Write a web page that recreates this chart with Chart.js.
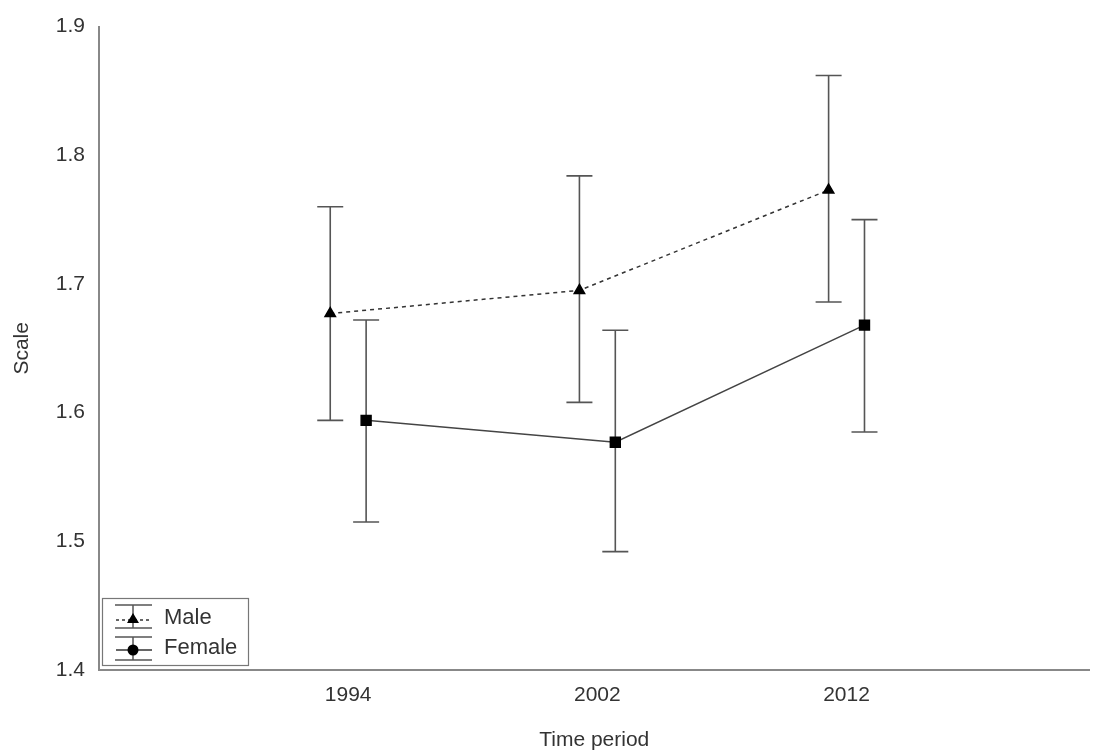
<!DOCTYPE html>
<html>
<head>
<meta charset="utf-8">
<script src="https://cdn.jsdelivr.net/npm/chart.js@4"></script>
<style>
  html, body { margin: 0; padding: 0; background: #fff; }
  #wrap { width: 1098px; height: 753px; }
</style>
</head>
<body>
<div id="wrap"><canvas id="chart"></canvas></div>
<script>
// --- datos ---
const periods = ["1994", "2002", "2012"];
const maleMean = [1.677, 1.695, 1.773];
const maleLow = [1.594, 1.608, 1.686];
const maleHigh = [1.760, 1.784, 1.862];
const femaleMean = [1.594, 1.577, 1.668];
const femaleLow = [1.515, 1.492, 1.585];
const femaleHigh = [1.672, 1.664, 1.750];
const yTicks = [1.4, 1.5, 1.6, 1.7, 1.8, 1.9];

const OFFSET = 0.072; // separación hombre / mujer dentro de cada periodo
const font = "'Liberation Sans', Arial, sans-serif";

function pts(means, shift) {
  return means.map((v, i) => ({ x: i + 1 + shift, y: v }));
}

// --- barras de error (debajo de los marcadores) ---
const errorBars = {
  id: "errorBars",
  beforeDatasetsDraw(chart) {
    const { ctx, scales } = chart;
    const sets = [
      [maleLow, maleHigh, -OFFSET],
      [femaleLow, femaleHigh, OFFSET],
    ];
    ctx.save();
    ctx.strokeStyle = "#555";
    ctx.lineWidth = 1.6;
    sets.forEach(([lo, hi, shift]) => {
      lo.forEach((l, i) => {
        const x = scales.x.getPixelForValue(i + 1 + shift);
        const y1 = scales.y.getPixelForValue(l);
        const y2 = scales.y.getPixelForValue(hi[i]);
        ctx.beginPath();
        ctx.moveTo(x, y1); ctx.lineTo(x, y2);
        ctx.moveTo(x - 13, y1); ctx.lineTo(x + 13, y1);
        ctx.moveTo(x - 13, y2); ctx.lineTo(x + 13, y2);
        ctx.stroke();
      });
    });
    ctx.restore();
  },
};

// --- leyenda dibujada a mano ---
const boxLegend = {
  id: "boxLegend",
  afterDraw(chart) {
    const ctx = chart.ctx;
    ctx.save();
    ctx.strokeStyle = "#777";
    ctx.lineWidth = 1.2;
    ctx.strokeRect(102.5, 598.5, 146, 67);

    const rows = [
      { label: "Male", y: 620, top: 605, bot: 628, dash: [3, 3], marker: "tri" },
      { label: "Female", y: 650, top: 637, bot: 660, dash: [], marker: "dot" },
    ];
    rows.forEach((r) => {
      ctx.strokeStyle = "#555";
      ctx.lineWidth = 1.5;
      ctx.setLineDash([]);
      ctx.beginPath();
      ctx.moveTo(115, r.top); ctx.lineTo(152, r.top);
      ctx.moveTo(115, r.bot); ctx.lineTo(152, r.bot);
      ctx.moveTo(133, r.top); ctx.lineTo(133, r.bot);
      ctx.stroke();
      ctx.strokeStyle = "#333";
      ctx.setLineDash(r.dash);
      ctx.beginPath();
      ctx.moveTo(116, r.y); ctx.lineTo(152, r.y);
      ctx.stroke();
      ctx.setLineDash([]);
      ctx.fillStyle = "#000";
      ctx.beginPath();
      if (r.marker === "tri") {
        ctx.moveTo(133, r.y - 7); ctx.lineTo(139, r.y + 3); ctx.lineTo(127, r.y + 3);
        ctx.closePath();
      } else {
        ctx.arc(133, r.y, 5.5, 0, Math.PI * 2);
      }
      ctx.fill();
      ctx.fillStyle = "#333";
      ctx.font = "22px " + font;
      ctx.textBaseline = "middle";
      ctx.fillText(r.label, 164, r.y - 2);
    });
    ctx.restore();
  },
};

new Chart(document.getElementById("chart"), {
  type: "line",
  data: {
    datasets: [
      {
        label: "Male",
        data: pts(maleMean, -OFFSET),
        borderColor: "#333",
        borderWidth: 1.5,
        borderDash: [4, 4],
        pointStyle: "triangle",
        pointRadius: 6,
        pointBackgroundColor: "#000",
        pointBorderColor: "#000",
        fill: false,
      },
      {
        label: "Female",
        data: pts(femaleMean, OFFSET),
        borderColor: "#444",
        borderWidth: 1.5,
        pointStyle: "rect",
        pointRadius: 7,
        pointBackgroundColor: "#000",
        pointBorderColor: "#000",
        fill: false,
      },
    ],
  },
  options: {
    responsive: true,
    maintainAspectRatio: false,
    animation: false,
    layout: { padding: { left: 10, top: 23, right: 2, bottom: 0 } },
    plugins: { legend: { display: false }, tooltip: { enabled: false } },
    scales: {
      x: {
        type: "linear",
        min: 0,
        max: 3.975,
        afterBuildTicks: (s) => { s.ticks = periods.map((p, i) => ({ value: i + 1 })); },
        afterFit: (s) => { s.height = 83; },
        grid: { display: false, drawTicks: false },
        border: { color: "#888", width: 2 },
        ticks: {
          padding: 13,
          color: "#333",
          font: { size: 21, family: font },
          callback: (v) => periods[v - 1] || "",
        },
        title: {
          display: true,
          text: "Time period",
          color: "#333",
          font: { size: 21, family: font },
          padding: { top: 6, bottom: 0 },
        },
      },
      y: {
        min: 1.4,
        max: 1.9,
        afterBuildTicks: (s) => { s.ticks = yTicks.map((v) => ({ value: v })); },
        afterFit: (s) => { s.width = 89; },
        grid: { display: false, drawTicks: false },
        border: { color: "#888", width: 2 },
        ticks: {
          padding: 14,
          color: "#333",
          font: { size: 21, family: font },
          callback: (v) => v.toFixed(1),
        },
        title: {
          display: true,
          text: "Scale",
          color: "#333",
          font: { size: 21, family: font },
          padding: 0,
        },
      },
    },
  },
  plugins: [errorBars, boxLegend],
});
</script>
</body>
</html>
